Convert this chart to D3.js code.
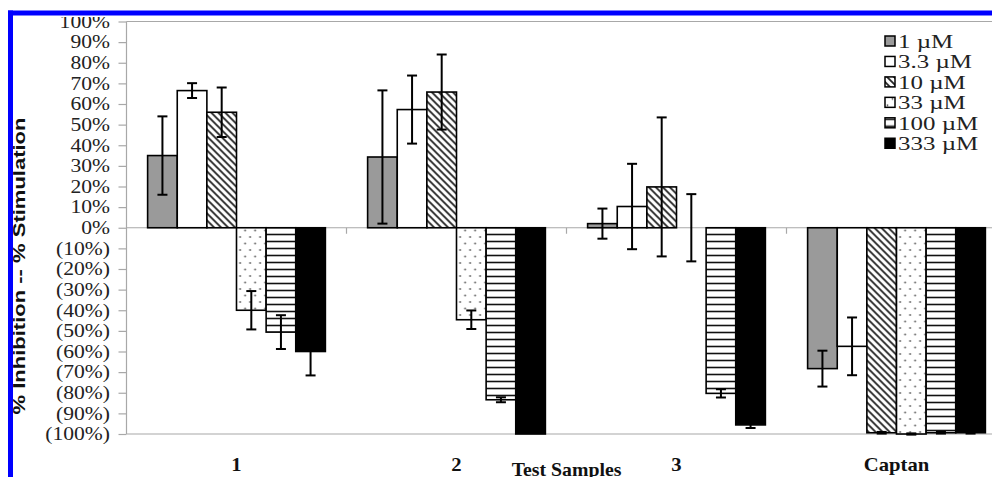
<!DOCTYPE html>
<html><head><meta charset="utf-8">
<script src="https://cdn.jsdelivr.net/npm/d3@7"></script>
<style>html,body{margin:0;padding:0;background:#fff;overflow:hidden}</style>
</head><body>
<svg id="c" width="992" height="477"></svg>
<script>
const categories = ["1", "2", "3", "Captan"];
const seriesNames = ["1 µM", "3.3 µM", "10 µM", "33 µM", "100 µM", "333 µM"];
const v1 = [35, 34.3, 2, -68.3];
const v2 = [66.5, 57.3, 10.3, -57.5];
const v3 = [56, 65.8, 19.8, -99.4];
const v4 = [-40, -44.6, 0, -100];
const v5 = [-50.6, -83.4, -80.3, -99.4];
const v6 = [-60, -100, -95.6, -99.4];
const e1 = [19, 32.3, 7.3, 8.7];
const e2 = [3.6, 16.5, 20.7, 14];
const e3 = [12, 18.2, 33.7, 0.4];
const e4 = [9.3, 4.5, 16.3, 0.3];
const e5 = [8.2, 1.2, 2, 0.4];
const e6 = [11.6, 0, 1.5, 0.4];
const yTicks = [100, 90, 80, 70, 60, 50, 40, 30, 20, 10, 0, -10, -20, -30, -40, -50, -60, -70, -80, -90, -100];
const yTitle = "% Inhibition -- % Stimulation";
const xTitle = "Test Samples";

const values = [v1, v2, v3, v4, v5, v6];
const errors = [e1, e2, e3, e4, e5, e6];
const fills = ["#9a9a9a", "#ffffff", "url(#hatch)", "url(#dots)", "url(#hlines)", "#000000"];

const svg = d3.select("#c");
const defs = svg.append("defs");
const ph = defs.append("pattern").attr("id", "hatch").attr("patternUnits", "userSpaceOnUse")
  .attr("width", 7).attr("height", 7);
ph.append("rect").attr("width", 7).attr("height", 7).attr("fill", "#fff");
ph.append("path").attr("d", "M-1,-1 L8,8 M-4.5,2.5 L1,8 M6,-1 L11,4").attr("stroke", "#222").attr("stroke-width", 1.8);
const pd = defs.append("pattern").attr("id", "dots").attr("patternUnits", "userSpaceOnUse")
  .attr("width", 10).attr("height", 13);
pd.append("rect").attr("width", 10).attr("height", 13).attr("fill", "#fff");
pd.append("circle").attr("cx", 2.5).attr("cy", 3).attr("r", 0.9).attr("fill", "#555");
pd.append("circle").attr("cx", 7.5).attr("cy", 9.5).attr("r", 0.9).attr("fill", "#555");
const pl = defs.append("pattern").attr("id", "hlines").attr("patternUnits", "userSpaceOnUse")
  .attr("width", 8).attr("height", 7);
pl.append("rect").attr("width", 8).attr("height", 7).attr("fill", "#fff");
pl.append("line").attr("x1", 0).attr("x2", 8).attr("y1", 3.5).attr("y2", 3.5).attr("stroke", "#111").attr("stroke-width", 1.6);

const x0 = d3.scaleBand().domain(categories).range([126.5, 1006.5]).paddingInner(0.192).paddingOuter(0.096);
const x1 = d3.scaleBand().domain(d3.range(seriesNames.length)).range([0, x0.bandwidth()]);
const y = d3.scaleLinear().domain([-100, 100]).range([434, 21.5]);

const gridC = "#a8a8a8";
[100, -100].forEach(v => svg.append("line").attr("x1", 126.5).attr("x2", 992)
  .attr("y1", y(v)).attr("y2", y(v)).attr("stroke", gridC).attr("stroke-width", 1.2));

const yAxis = d3.axisLeft(y).tickValues(yTicks).tickSize(8).tickFormat(() => "");
const ga = svg.append("g").attr("transform", "translate(126.5,0)").call(yAxis);
ga.selectAll("path,line").attr("stroke", gridC).attr("stroke-width", 1.2);
ga.select(".domain").attr("d", `M0,${y(100)}V${y(-100)}`);

svg.append("g").selectAll("text").data(yTicks).join("text")
  .attr("transform", d => `translate(110,${y(d)}) scale(1.2,1)`)
  .attr("text-anchor", "end").attr("dy", "0.35em")
  .attr("font-family", "Liberation Serif, serif").attr("font-size", 18).attr("fill", "#222")
  .text(d => d < 0 ? `(${-d}%)` : `${d}%`);

svg.append("line").attr("x1", 126.5).attr("x2", 992).attr("y1", y(0)).attr("y2", y(0))
  .attr("stroke", gridC).attr("stroke-width", 1.2);
svg.append("g").selectAll("line").data(categories.slice(1)).join("line")
  .attr("x1", d => x0(d) - x0.step() * 0.096).attr("x2", d => x0(d) - x0.step() * 0.096)
  .attr("y1", y(0)).attr("y2", y(0) + 6).attr("stroke", gridC).attr("stroke-width", 1.2);

const groups = svg.append("g").selectAll("g").data(categories).join("g")
  .attr("transform", d => `translate(${x0(d)},0)`);
groups.each(function(cat, ci) {
  const g = d3.select(this);
  seriesNames.forEach((s, si) => {
    const v = values[si][ci];
    g.append("rect").attr("x", x1(si)).attr("width", x1.bandwidth())
      .attr("y", Math.min(y(v), y(0))).attr("height", Math.abs(y(v) - y(0)))
      .attr("fill", fills[si]).attr("stroke", "#000").attr("stroke-width", 1.6);
  });
  seriesNames.forEach((s, si) => {
    const v = values[si][ci], e = errors[si][ci];
    if (e <= 0) return;
    const cx = x1(si) + x1.bandwidth() / 2;
    g.append("line").attr("x1", cx).attr("x2", cx).attr("y1", y(v + e)).attr("y2", y(v - e))
      .attr("stroke", "#000").attr("stroke-width", 2);
    [v + e, v - e].forEach(t => g.append("line").attr("x1", cx - 5).attr("x2", cx + 5)
      .attr("y1", y(t)).attr("y2", y(t)).attr("stroke", "#000").attr("stroke-width", 2));
  });
});

svg.append("g").selectAll("text").data(categories).join("text")
  .attr("transform", d => `translate(${x0(d) + x0.bandwidth() / 2},471) scale(1.15,1)`)
  .attr("text-anchor", "middle")
  .attr("font-family", "Liberation Serif, serif").attr("font-weight", "bold").attr("font-size", 18).attr("fill", "#111")
  .text(d => d);
svg.append("text").attr("transform", `translate(566.5,476) scale(1.1,1)`).attr("text-anchor", "middle")
  .attr("font-family", "Liberation Serif, serif").attr("font-weight", "bold").attr("font-size", 18).attr("fill", "#111")
  .text(xTitle);

svg.append("text").attr("transform", "translate(25,266) rotate(-90)").attr("text-anchor", "middle")
  .attr("font-family", "Liberation Sans, Arial, sans-serif").attr("font-weight", "bold").attr("font-size", 16.5)
  .attr("fill", "#111").attr("textLength", 297).attr("lengthAdjust", "spacingAndGlyphs")
  .text(yTitle);

const leg = svg.append("g").selectAll("g").data(seriesNames).join("g")
  .attr("transform", (d, i) => `translate(885,${41 + i * 20.45})`);
leg.append("rect").attr("x", 0).attr("y", -5).attr("width", 10).attr("height", 10)
  .attr("fill", (d, i) => fills[i]).attr("stroke", "#000").attr("stroke-width", 1.5);
leg.append("text").attr("transform", "translate(13,0) scale(1.28,1)").attr("dy", "0.35em")
  .attr("font-family", "Liberation Serif, serif").attr("font-size", 19.5).attr("fill", "#222")
  .text(d => d);

svg.append("rect").attr("x", 0).attr("y", 0).attr("width", 992).attr("height", 17).attr("fill", "#fff");
svg.append("rect").attr("x", 0).attr("y", 0).attr("width", 8).attr("height", 477).attr("fill", "#fff");
svg.append("rect").attr("x", 8).attr("y", 10.5).attr("width", 984).attr("height", 5).attr("fill", "#0000ff");
svg.append("rect").attr("x", 8).attr("y", 10.5).attr("width", 5).attr("height", 466.5).attr("fill", "#0000ff");
</script>
</body></html>
